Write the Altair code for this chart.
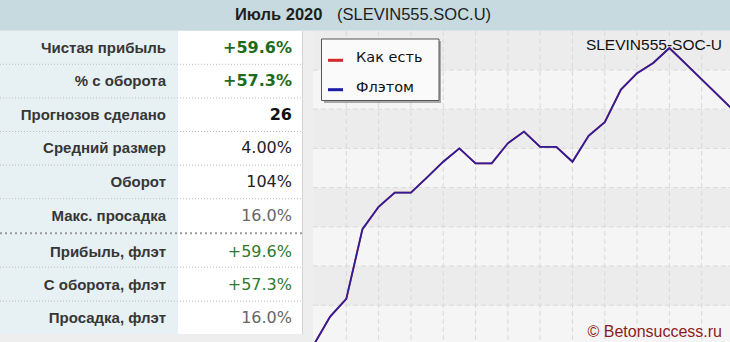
import altair as alt
import pandas as pd

# ---------------- data ----------------
bet_index = list(range(27))
flat_profit = [0.0, 7.1, 11.6, 29.4, 35.1, 38.7, 38.7, 42.6, 46.6, 50.0, 46.2, 46.2, 51.3,
               54.3, 50.4, 50.4, 46.6, 53.2, 56.7, 65.0, 69.2, 71.8, 75.6, 71.6, 67.6, 63.6, 59.6]
asis_profit = [0.0, 7.1, 11.6, 29.4, 35.1, 38.7, 38.7, 42.6, 46.6, 50.0, 46.2, 46.2, 51.3,
               54.3, 50.4, 50.4, 46.6, 53.2, 56.7, 65.0, 69.2, 71.8, 75.6, 71.6, 67.6, 63.6, 59.6]
series_names = ["Как есть", "Флэтом"]

stat_labels = ["Чистая прибыль", "% с оборота", "Прогнозов сделано", "Средний размер",
               "Оборот", "Макс. просадка", "Прибыль, флэт", "С оборота, флэт", "Просадка, флэт"]
stat_values = ["+59.6%", "+57.3%", "26", "4.00%", "104%", "16.0%", "+59.6%", "+57.3%", "16.0%"]

title_month = "Июль 2020"
title_code = "(SLEVIN555.SOC.U)"
chart_name = "SLEVIN555-SOC-U"
copyright_text = "© Betonsuccess.ru"

grid_y = [10, 20, 30, 40, 50, 60, 70]
grid_x = [2, 4, 6, 8, 10, 12, 14, 16, 18, 20, 22, 24]
band_lo = [0, 10, 20, 30, 40, 50, 60, 70]

# ---------------- styles ----------------
series_colors = ["#d42a2a", "#1c1ca6"]
value_colors = ["#1e6b1e", "#1e6b1e", "#111111", "#222222", "#222222",
                "#666666", "#2e7a2e", "#2e7a2e", "#666666"]
value_bold = [True, True, True, False, False, False, False, False, False]

W, H = 730, 342
one = pd.DataFrame({"a": [0]})

xs = alt.Scale(domain=[0, 26], range=[314, 734], nice=False, zero=False)
ys = alt.Scale(domain=[0, 80], range=[344.4, 30.8], nice=False, zero=False)


def box(x, x2, y, y2, **kw):
    return alt.Chart(one).mark_rect(**kw).encode(
        x=alt.value(x), x2=alt.value(x2), y=alt.value(y), y2=alt.value(y2))


def txt(t, x, y, align, **kw):
    return alt.Chart(one).mark_text(text=t, align=align, baseline="middle", **kw).encode(
        x=alt.value(x), y=alt.value(y))


layers = []

# ---- plot background bands ----
bands_df = pd.DataFrame({"lo": band_lo})
bands = alt.Chart(bands_df).transform_calculate(
    hi="datum.lo + 10",
    shade="(datum.lo / 10) % 2 == 1 ? '#ececec' : '#f5f5f5'"
).mark_rect(clip=True).encode(
    x=alt.value(313), x2=alt.value(730),
    y=alt.Y("lo:Q", scale=ys, axis=None), y2="hi:Q",
    color=alt.Color("shade:N", scale=None))
layers.append(bands)

# ---- grid ----
gy = alt.Chart(pd.DataFrame({"v": grid_y})).mark_rule(
    color="#d9d9d9", strokeDash=[5, 3], strokeWidth=1).encode(
    x=alt.value(313), x2=alt.value(730), y=alt.Y("v:Q", scale=ys, axis=None))
gx = alt.Chart(pd.DataFrame({"v": grid_x})).mark_rule(
    color="#d9d9d9", strokeDash=[5, 3], strokeWidth=1).encode(
    x=alt.X("v:Q", scale=xs, axis=None), y=alt.value(31), y2=alt.value(342))
layers += [gy, gx]

# ---- lines ----
line_df = pd.DataFrame({
    "idx": bet_index + bet_index,
    "val": asis_profit + flat_profit,
    "series": [series_names[0]] * len(bet_index) + [series_names[1]] * len(bet_index),
})
color = alt.Color("series:N", scale=alt.Scale(domain=series_names, range=series_colors), legend=None)
red_line = alt.Chart(line_df).transform_filter(
    alt.datum.series == series_names[0]).mark_line(strokeWidth=1.8, clip=True).encode(
    x=alt.X("idx:Q", scale=xs, axis=None), y=alt.Y("val:Q", scale=ys, axis=None), color=color)
blue_line = alt.Chart(line_df).transform_filter(
    alt.datum.series == series_names[1]).mark_line(strokeWidth=1.8, opacity=0.9, clip=True).encode(
    x=alt.X("idx:Q", scale=xs, axis=None), y=alt.Y("val:Q", scale=ys, axis=None), color=color)
layers += [red_line, blue_line]

# ---- chart texts ----
layers.append(txt(chart_name, 722, 45, "right", font="Liberation Sans", fontSize=15.5, color="#111111"))
layers.append(txt(copyright_text, 722, 332, "right", font="Liberation Sans", fontSize=16, color="#8b1c1c"))

# ---- legend ----
layers.append(box(324, 441, 41, 103, fill="#a8a8a8"))
layers.append(box(321.5, 439, 39, 100.5, fill="#fafafa", stroke="#555555", strokeWidth=1))
leg_df = pd.DataFrame({"series": series_names, "k": [0, 1]})
leg_sym = alt.Chart(leg_df).transform_calculate(ly="60.3 + datum.k * 29.4").mark_rule(
    strokeWidth=3).encode(x=alt.value(328), x2=alt.value(343),
                          y=alt.Y("ly:Q", scale=None), color=color)
leg_txt = alt.Chart(leg_df).transform_calculate(ly="58 + datum.k * 30").mark_text(
    align="left", baseline="middle", font="DejaVu Sans", fontSize=14.5, color="#111111").encode(
    x=alt.value(356), y=alt.Y("ly:Q", scale=None), text="series:N")
layers += [leg_sym, leg_txt]

# ---- left strip & table ----
layers.append(box(0, 313, 0, 342, fill="#eeeeee"))
layers.append(box(0, 178, 31, 334, fill="#e7f0f2"))
layers.append(box(178, 302, 31, 334, fill="#ffffff"))
layers.append(alt.Chart(one).mark_rule(color="#d4d4d4").encode(
    x=alt.value(302.5), y=alt.value(31), y2=alt.value(334)))

sep_df = pd.DataFrame({"k": list(range(8))})
sep_calc = "datum.k < 5 ? 64.3 + 33.6 * datum.k : 233.3 + (datum.k - 5) * 33.9"
thin_sep = alt.Chart(sep_df).transform_calculate(sy=sep_calc).transform_filter(
    "datum.k != 5").mark_rule(color="#bdbdbd", strokeDash=[1, 2], strokeWidth=1).encode(
    x=alt.value(0), x2=alt.value(302), y=alt.Y("sy:Q", scale=None))
thick_sep = alt.Chart(sep_df).transform_calculate(sy=sep_calc).transform_filter(
    "datum.k == 5").mark_rule(color="#9a9a9a", strokeDash=[2, 3], strokeWidth=2).encode(
    x=alt.value(0), x2=alt.value(302), y=alt.Y("sy:Q", scale=None))
layers += [thin_sep, thick_sep]

rows_df = pd.DataFrame({"i": list(range(9)), "label": stat_labels, "value": stat_values,
                        "vcolor": value_colors, "bold": value_bold})
row_y = "datum.i < 6 ? 47.5 + datum.i * 33.6 : 251.5 + (datum.i - 6) * 33.4"
lab = alt.Chart(rows_df).transform_calculate(yp=row_y).mark_text(
    align="right", baseline="middle", font="Liberation Sans", fontSize=15,
    fontWeight="bold", color="#363636").encode(
    x=alt.value(166), y=alt.Y("yp:Q", scale=None), text="label:N")
val_b = alt.Chart(rows_df).transform_calculate(yp=row_y).transform_filter(
    "datum.bold").mark_text(align="right", baseline="middle", font="DejaVu Sans",
                            fontSize=16, fontWeight="bold").encode(
    x=alt.value(292), y=alt.Y("yp:Q", scale=None), text="value:N",
    color=alt.Color("vcolor:N", scale=None))
val_n = alt.Chart(rows_df).transform_calculate(yp=row_y).transform_filter(
    "!datum.bold").mark_text(align="right", baseline="middle", font="DejaVu Sans",
                             fontSize=16).encode(
    x=alt.value(292), y=alt.Y("yp:Q", scale=None), text="value:N",
    color=alt.Color("vcolor:N", scale=None))
layers += [lab, val_b, val_n]

# ---- header ----
layers.append(box(0, 730, 0, 30.5, fill="#c6dadf"))
layers.append(txt(title_month, 235, 15, "left", font="Liberation Sans", fontSize=16.5,
                  fontWeight="bold", color="#1e1e1e"))
layers.append(txt(title_code, 337, 15, "left", font="Liberation Sans", fontSize=16.5,
                  color="#1e1e1e"))

chart = alt.layer(*layers).properties(
    width=W, height=H, background="#efefef", padding=0, autosize="none"
).configure_view(stroke=None)

chart.save("out.html", embed_options={"renderer": "svg", "actions": False})
